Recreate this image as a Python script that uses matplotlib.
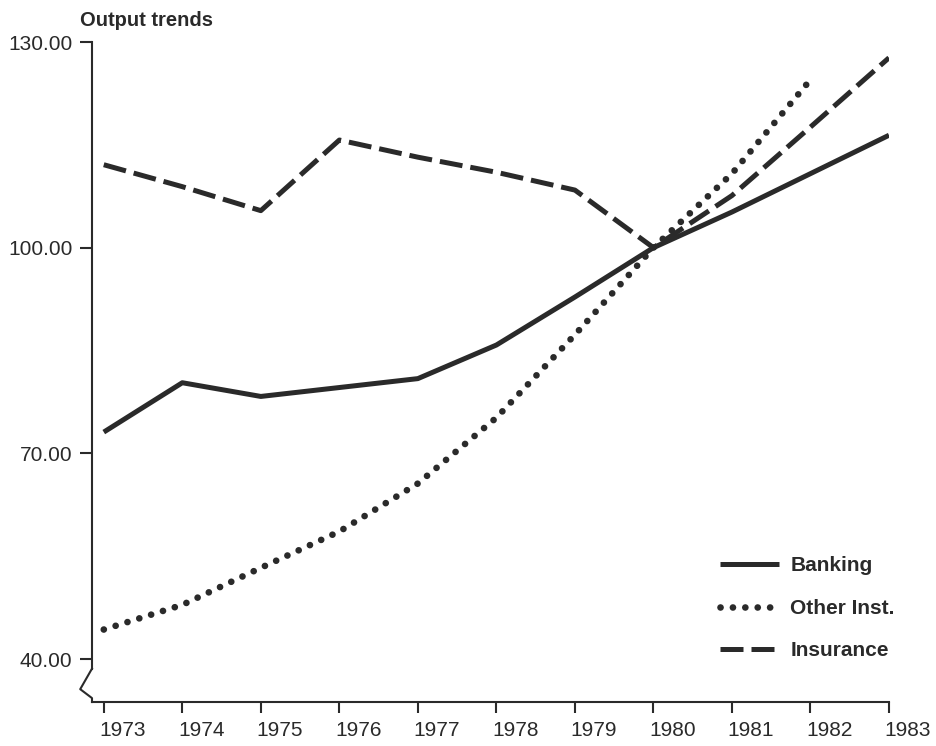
import matplotlib.pyplot as plt
import matplotlib
import matplotlib.transforms as mtrans

years = [1973, 1974, 1975, 1976, 1977, 1978, 1979, 1980, 1981, 1982, 1983]
banking = [73.1, 80.3, 78.3, 79.6, 80.9, 85.8, 92.8, 100.0, 105.2, 110.8, 116.4]
other_years = [1973, 1974, 1975, 1976, 1977, 1978, 1979, 1980, 1981, 1982]
other_inst = [44.3, 47.9, 53.3, 58.6, 65.6, 75.2, 87.3, 100.0, 110.8, 124.5]
insurance = [112.1, 108.9, 105.4, 115.7, 113.2, 111.0, 108.4, 100.0, 107.6, 117.6, 127.7]
ytick_vals = [40, 70, 100, 130]
ytick_labels = ['40.00', '70.00', '100.00', '130.00']

matplotlib.rcParams['font.family'] = ['Liberation Sans', 'DejaVu Sans']
ink = '#2a2a2a'

fig = plt.figure(figsize=(9.36, 7.46), dpi=100)
ax = fig.add_axes([92/936, 44/746, 797/936, 660/746])

ax.plot(years, banking, color=ink, lw=3.6, solid_capstyle='butt', label='Banking')
ax.plot(other_years, other_inst, color=ink, lw=4.8, linestyle=(0, (0.01, 1.85)),
        dash_capstyle='round', label='Other Inst.')
ax.plot(years, insurance, color=ink, lw=3.6, linestyle=(0, (4.6, 1.6)),
        dash_capstyle='butt', label='Insurance')

ax.set_xlim(1972.85, 1983)
ax.set_ylim(33.73, 130)

for s in ['top', 'right']:
    ax.spines[s].set_visible(False)
ax.spines['left'].set_bounds(38.6, 130)
for s in ['left', 'bottom']:
    ax.spines[s].set_linewidth(1.5)
    ax.spines[s].set_color(ink)

# axis break zigzag
ax.plot([1972.85, 1972.70, 1972.85, 1972.85], [38.6, 35.6, 34.3, 33.73],
        color=ink, lw=1.5, clip_on=False)

ax.set_yticks(ytick_vals)
ax.set_yticklabels(ytick_labels)
ax.set_xticks(years)
ax.tick_params(axis='y', direction='out', length=9, width=1.5, pad=5, labelsize=15, colors=ink)
ax.tick_params(axis='x', direction='out', length=8, width=1.5, pad=6, labelsize=15, colors=ink)

off = mtrans.ScaledTranslation(-3/72, 0, fig.dpi_scale_trans)
for lab in ax.get_xticklabels():
    lab.set_horizontalalignment('left')
    lab.set_transform(lab.get_transform() + off)

fig.text(80/936, 1 - 20/746, 'Output trends', fontsize=14.5, fontweight='bold',
         ha='left', va='center', color=ink)

leg = ax.legend(loc='lower left', bbox_to_anchor=(0.765, 0.035), frameon=False,
                handlelength=2.8, handletextpad=0.55, labelspacing=1.12,
                prop={'size': 15, 'weight': 'bold'})
for t in leg.get_texts():
    t.set_color(ink)

fig.savefig('out.png', dpi=100)
